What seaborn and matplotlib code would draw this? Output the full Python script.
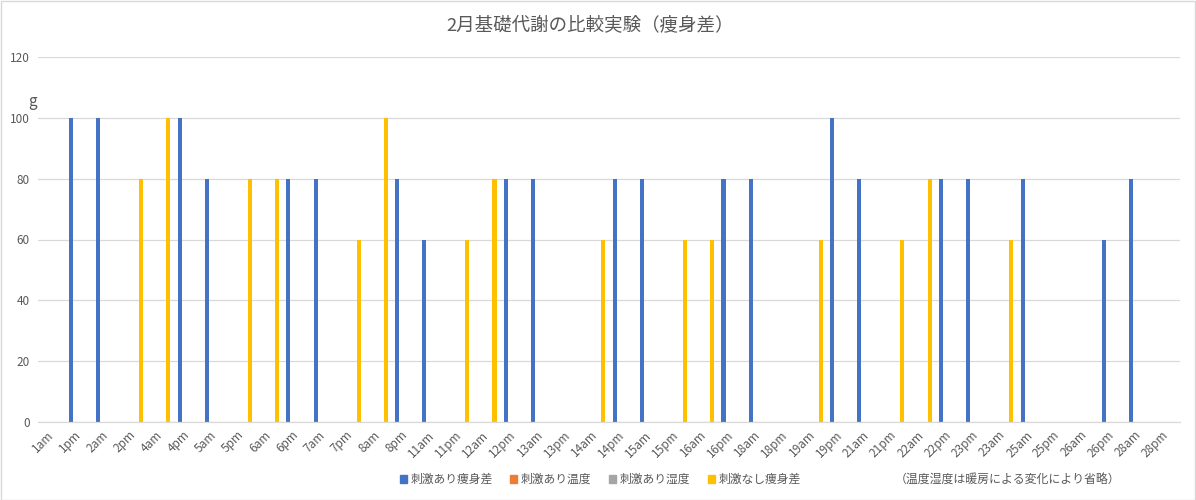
import matplotlib
matplotlib.use("Agg")
import matplotlib.pyplot as plt
import matplotlib.patches as mpatches
import seaborn as sns
import pandas as pd
import numpy as np

categories = ["1am", "1pm", "2am", "2pm", "4am", "4pm", "5am", "5pm", "6am", "6pm",
              "7am", "7pm", "8am", "8pm", "11am", "11pm", "12am", "12pm", "13am", "13pm",
              "14am", "14pm", "15am", "15pm", "16am", "16pm", "18am", "18pm", "19am", "19pm",
              "21am", "21pm", "22am", "22pm", "23pm", "23am", "25am", "25pm", "26am", "26pm",
              "28am", "28pm"]

stim_diff = [0, 100, 100, 0, 0, 100, 80, 0, 0, 80,
             80, 0, 0, 80, 60, 0, 0, 80, 80, 0,
             0, 80, 80, 0, 0, 80, 80, 0, 0, 100,
             80, 0, 0, 80, 80, 0, 80, 0, 0, 60,
             80, 0]
stim_temp = [0] * 42
stim_hum = [0] * 42
nostim_diff = [0, 0, 0, 80, 100, 0, 0, 80, 80, 0,
               0, 60, 100, 0, 0, 60, 80, 0, 0, 0,
               60, 0, 0, 60, 60, 0, 0, 0, 60, 0,
               0, 60, 80, 0, 0, 60, 0, 0, 0, 0,
               0, 0]

series_names = ["刺激あり痩身差", "刺激あり温度", "刺激あり湿度", "刺激なし痩身差"]
series_colors = ["#4472C4", "#ED7D31", "#A5A5A5", "#FFC000"]
title = "2月基礎代謝の比較実験（痩身差）"
note = "（温度湿度は暖房による変化により省略）"

sns.set_theme(style="white")
plt.rcParams["font.family"] = ["Noto Sans CJK JP", "DejaVu Sans"]

rows = []
for vals, name in zip([stim_diff, stim_temp, stim_hum, nostim_diff], series_names):
    for c, v in zip(categories, vals):
        rows.append({"cat": c, "series": name, "value": v})
df = pd.DataFrame(rows)

fig = plt.figure(figsize=(11.96, 5.0), dpi=100)
ax = fig.add_axes([38 / 1196, 78 / 500, 1142 / 1196, 365 / 500])

sns.barplot(data=df, x="cat", y="value", hue="series", order=categories,
            hue_order=series_names, palette=series_colors, width=0.77,
            errorbar=None, ax=ax, linewidth=0, saturation=1)

# slimmer bars, same centres
for p in ax.patches:
    w = p.get_width()
    new_w = 0.15
    p.set_x(p.get_x() + (w - new_w) / 2)
    p.set_width(new_w)

ax.set_ylim(0, 120)
ax.set_xlim(-0.5, len(categories) - 0.5)
ax.set_yticks(range(0, 121, 20))
ax.yaxis.grid(True, color="#D9D9D9", linewidth=0.9)
ax.set_axisbelow(True)
for s in ["top", "right", "left"]:
    ax.spines[s].set_visible(False)
ax.spines["bottom"].set_color("#D9D9D9")
ax.spines["bottom"].set_linewidth(0.9)
ax.tick_params(axis="both", length=0, colors="#595959", labelsize=8.5)
ax.tick_params(axis="y", pad=6)
ax.set_xlabel("")
ax.set_ylabel("")
for lab in ax.get_xticklabels():
    lab.set_rotation(45)
    lab.set_ha("right")
    lab.set_rotation_mode("anchor")
    lab.set_va("center")
ax.tick_params(axis="x", pad=8)

ax.get_legend().remove()
handles = [mpatches.Patch(color=c, label=n) for c, n in zip(series_colors, series_names)]
fig.legend(handles=handles, loc="center", bbox_to_anchor=(0.502, 0.041), ncol=4,
           frameon=False, fontsize=8.5, handlelength=0.6, handleheight=0.6,
           handletextpad=0.3, columnspacing=1.5, labelcolor="#595959")

fig.text(1008 / 1196, 1 - 479 / 500, note, ha="center", va="center",
         fontsize=8.6, color="#595959")
fig.text(590 / 1196, 1 - 25 / 500, title, ha="center", va="center",
         fontsize=13.3, color="#595959")
fig.text(33 / 1196, 1 - 102 / 500, "g", ha="center", va="center",
         fontsize=11, color="#595959")

fig.patches.append(mpatches.Rectangle((0.5 / 1196, 0.5 / 500), 1 - 1.5 / 1196, 1 - 1.5 / 500,
                                      transform=fig.transFigure, fill=False,
                                      edgecolor="#D9D9D9", linewidth=1))

fig.savefig("out.png", dpi=100, facecolor="white")
